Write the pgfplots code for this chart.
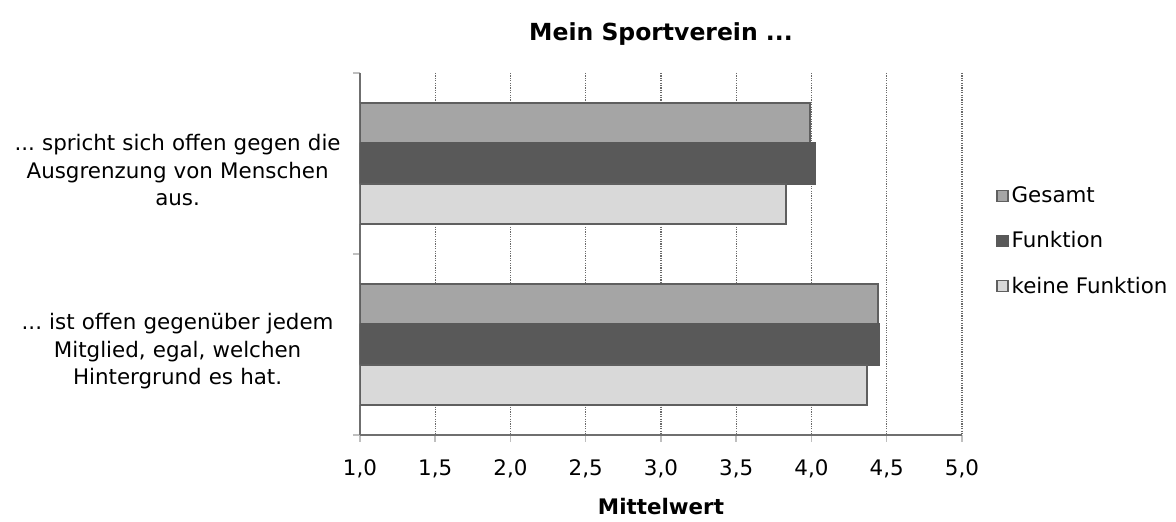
\documentclass[border=0pt]{standalone}
\usepackage{fontspec}
\setmainfont{DejaVu Sans}
\usepackage{pgfplots}
\pgfplotsset{compat=1.18}
\definecolor{cGes}{HTML}{A5A5A5}
\definecolor{cFkt}{HTML}{595959}
\definecolor{cKei}{HTML}{D9D9D9}
\definecolor{cEdge}{HTML}{5F5F5F}
\definecolor{cAxis}{HTML}{6F6F6F}
\definecolor{cTick}{HTML}{BFBFBF}
\definecolor{cGrid}{HTML}{6A6A6A}
\newcommand\dts{{.}{.}{.}}
\begin{document}
\begin{tikzpicture}[font=\fontsize{10.7}{13.7}\selectfont\frenchspacing]
\path[use as bounding box] (-180pt,-43.5pt) rectangle (408pt,217.5pt);
\begin{axis}[
  at={(0pt,0pt)}, anchor=south west,
  scale only axis, width=301pt, height=181pt,
  xbar, bar width=0.2227,
  xmin=1, xmax=5, ymin=-0.5, ymax=1.5, y dir=reverse,
  enlargelimits=false,
  axis x line*=bottom, axis y line*=left,
  axis line style={cAxis, line width=0.75pt, -},
  xtick pos=bottom, ytick pos=left,
  xtick={1,1.5,2,2.5,3,3.5,4,4.5,5},
  /pgf/number format/.cd, use comma, fixed, fixed zerofill, precision=1, assume math mode=true,
  /pgfplots/.cd,
  xticklabel style={yshift=-5.5pt},
  ytick={-0.5,0.5,1.5}, yticklabels={,,},
  extra y ticks={0,1},
  extra y tick labels={{\dts\ spricht sich offen gegen die\\Ausgrenzung von Menschen\\aus.},{\dts\ ist offen gegenüber jedem\\Mitglied, egal, welchen\\Hintergrund es hat.}},
  extra y tick style={major tick length=0pt, grid=none,
     yticklabel style={align=center, text width=172pt, inner sep=0pt, xshift=-5pt, yshift=-3.3pt}},
  tick align=outside, major tick length=3.5pt,
  tick style={cTick, line width=0.75pt},
  xmajorgrids, ymajorgrids=false,
  major x grid style={cGrid, line width=0.6pt, dash pattern=on 0.6pt off 0.6pt},
  title={\bfseries\fontsize{11.75}{14}\selectfont Mein Sportverein \dts},
  title style={at={(axis description cs:0.5,1)}, anchor=center, yshift=13.5pt},
  xlabel={\bfseries Mittelwert},
  xlabel style={at={(axis description cs:0.5,0)}, anchor=center, yshift=-36pt},
  legend image code/.code={\draw[#1, line width=0.6pt] (0pt,-2.75pt) rectangle (5.5pt,2.75pt);},
  legend cell align=left,
  legend style={at={(axis description cs:1.0565,0.535)}, anchor=west, draw=none, fill=none,
     inner sep=0pt, row sep=10pt, nodes={inner sep=1.5pt}},
]
\addplot[bar shift=-0.2227, fill=cGes, draw=cEdge, line width=1pt] coordinates {(3.99,0) (4.44,1)};
\addplot[bar shift=0, fill=cFkt, draw=cFkt, line width=1pt] coordinates {(4.02,0) (4.45,1)};
\addplot[bar shift=0.2227, fill=cKei, draw=cEdge, line width=1pt] coordinates {(3.83,0) (4.37,1)};
\legend{Gesamt, Funktion, keine Funktion}
\end{axis}
\end{tikzpicture}
\end{document}
